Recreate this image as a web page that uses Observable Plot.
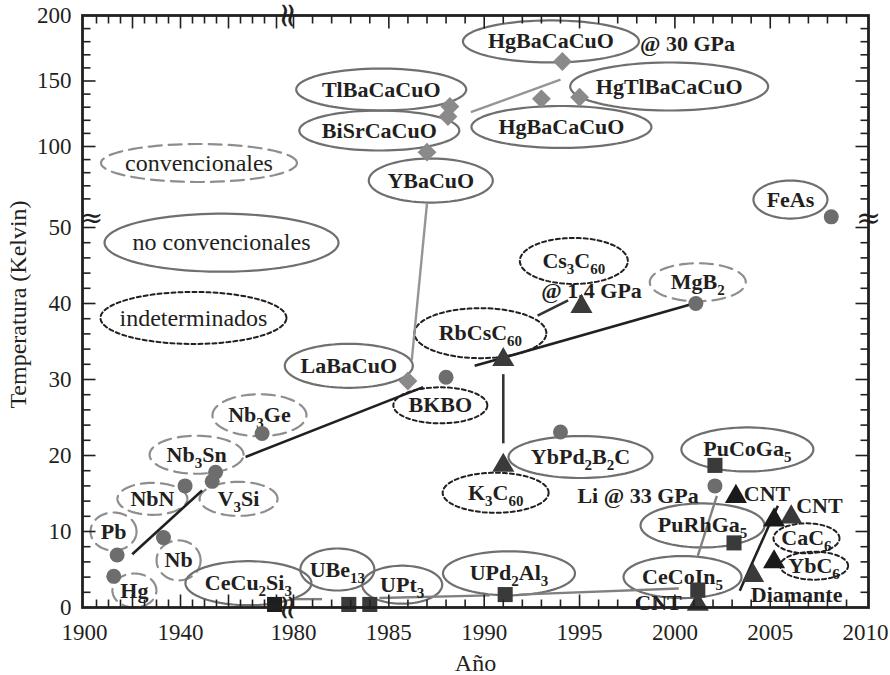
<!DOCTYPE html>
<html><head><meta charset="utf-8">
<script src="https://cdn.jsdelivr.net/npm/d3@7"></script>
<script src="https://cdn.jsdelivr.net/npm/@observablehq/plot@0.6"></script>
<style>body{margin:0;background:#fff}</style>
</head><body><div id="chart"></div>
<script>
// ---------------- DATA ----------------
// Conventional superconductors (grey circles)
const convName = ["Hg","Pb","Nb","NbN","V3Si","Nb3Sn","Nb3Ge","BKBO","YbPd2B2C","MgB2","Li @ 33 GPa","FeAs"];
const convYear = [1912.2, 1913.6, 1932.9, 1941.9, 1953.2, 1954.6, 1974.0, 1988.0, 1994.0, 2001.1, 2002.1, 2008.2];
const convTc   = [4.1, 6.9, 9.2, 16.0, 16.6, 17.8, 22.9, 30.3, 23.1, 40.0, 16.0, 51.4];

// Cuprates (grey diamonds)
const cupName = ["LaBaCuO","YBaCuO","BiSrCaCuO","TlBaCaCuO","HgBaCaCuO","HgTlBaCaCuO","HgBaCaCuO @ 30 GPa"];
const cupYear = [1986.0, 1987.0, 1988.1, 1988.2, 1993.0, 1995.0, 1994.1];
const cupTc   = [29.8, 95.7, 122.9, 130.5, 136.4, 137.6, 164.9];

// Heavy fermions (dark squares)
const hfName = ["CeCu2Si2","UBe13","UPt3","UPd2Al3","CeCoIn5","PuRhGa5","PuCoGa5"];
const hfYear = [1979.2, 1982.9, 1984.0, 1991.1, 2001.2, 2003.1, 2002.1];
const hfTc   = [0.4, 0.4, 0.4, 1.7, 2.3, 8.5, 18.7];

// Carbon-based (triangles): black ones and dark-grey ones
const triBlackName = ["CNT","CaC6","YbC6"];
const triBlackYear = [2003.2, 2005.2, 2005.2];
const triBlackTc   = [14.6, 11.5, 6.0];
const triGreyName = ["K3C60","RbCsC60","Cs3C60 @ 1,4 GPa","CNT","Diamante","CNT"];
const triGreyYear = [1991.0, 1991.0, 1995.1, 2006.1, 2004.1, 2001.2];
const triGreyTc   = [18.7, 32.6, 39.6, 11.9, 4.2, 0.4];

// Guide lines [[year,Tc],[year,Tc]]
const convTrend = [[[1919.9,7.0],[1949.0,15.4]], [[1967.1,19.8],[1986.8,29.0]], [[1989.5,31.8],[2001.0,40.0]], [[2003.4,2.2],[2005.4,13.4]]];
const fullTrend = [[[1991.0,30.7],[1991.0,21.6]], [[1992.8,38.4],[1994.4,40.4]]];
const cupTrend  = [[[1986.2,32.5],[1987.0,56.5]], [[1989.3,126.2],[1994.0,151.1]]];
const hfTrend   = [[[1980.0,1.1],[1981.5,1.1]], [[1984.5,1.25],[1990.3,1.6]], [[1991.8,1.7],[2000.2,2.5]], [[2001.2,6.8],[2002.2,14.7]]];

// Labels (text, year, Tc) by frame style
const lblConv = ["Hg","Pb","Nb","NbN","V_3Si","Nb_3Sn","Nb_3Ge","MgB_2"];
const lblConvYear = [1920.8, 1912.1, 1939.2, 1928.3, 1964.2, 1946.7, 1972.9, 2001.2];
const lblConvTc   = [2.24, 10.0, 6.2, 14.3, 14.3, 20.1, 25.3, 42.8];
const lblConvRx = [22, 23, 22, 35, 39, 47, 47, 48];
const lblConvRy = [17, 19, 20, 16, 17, 19, 21, 19];

const lblUnc = ["CeCu_2Si_3","UBe_{13}","UPt_3","UPd_2Al_3","CeCoIn_5","PuRhGa_5","PuCoGa_5","LaBaCuO","YBaCuO","BiSrCaCuO","TlBaCaCuO","HgBaCaCuO","HgTlBaCaCuO","HgBaCaCuO","YbPd_2B_2C","FeAs"];
const lblUncYear = [1968.3, 1982.3, 1985.7, 1991.3, 2000.4, 2001.45, 2003.8, 1982.9, 1987.2, 1984.5, 1984.6, 1993.5, 1999.7, 1994.05, 1995.05, 2006.06];
const lblUncTc   = [3.2, 5.0, 3.0, 4.5, 4.0, 10.8, 20.8, 31.8, 74, 112.2, 143.5, 180.2, 145.8, 114.9, 19.8, 59.5];
const lblUncRx = [63, 37, 40, 66, 59, 62, 66, 64, 62, 80, 85, 88, 99, 90, 72, 37];
const lblUncRy = [22, 21, 19, 22, 21, 22, 22, 22, 22, 20, 21, 21, 24, 21, 21, 19];

const lblUnd = ["RbCsC_{60}","BKBO","K_3C_{60}","Cs_3C_{60}","CaC_6","YbC_6"];
const lblUndYear = [1989.8, 1987.7, 1990.6, 1994.7, 2006.9, 2007.3];
const lblUndTc   = [36.1, 26.6, 15.1, 45.6, 9.1, 5.5];
const lblUndRx = [66, 47, 53, 54, 33, 34];
const lblUndRy = [25, 18, 20, 23, 15, 14];

const lblPlain = ["@ 30 GPa","Li @ 33 GPa","CNT","CNT","CNT","Diamante","@ 1,4 GPa"];
const lblPlainYear = [2000.66, 1998.07, 2004.83, 2007.58, 1999.14, 2006.38, 1995.63];
const lblPlainTc   = [178.6, 14.74, 15.0, 13.3, 0.66, 1.7, 41.7];

const legendText = ["convencionales","no convencionales","indeterminados"];
const legendYear = [1947.7, 1957.1, 1945.4];
const legendTc   = [87.4, 48.0, 38.1];
const legendRx = [98, 117, 93];
const legendRy = [19, 29, 26];

// Axis ticks
const xTicksOld = d3.range(1905, 1981, 5);
const xTicksNew = d3.range(1980, 2010, 1);
const xLabelsOld = [1900, 1940];
const xLabelsNew = [1980, 1985, 1990, 1995, 2000, 2005, 2010];
const yTicksLow = d3.range(2, 51, 2);
const yTicksHigh = d3.range(60, 200, 10);
const yLabelsLow = [0, 10, 20, 30, 40, 50];
const yLabelsHigh = [100, 150, 200];

// ---------------- LAYOUT / BROKEN SCALES ----------------
const W = 890, H = 675, mL = 82, mR = 22, mT = 15, mB = 68;
const INK = "#231f20";
const FONT = "'Liberation Serif','Times New Roman',serif";
const PX_OLD = 2.4, PX_NEW = 19.07, X1900 = 84, X1980 = 293;   // px per year / anchors
const PY_LOW = 7.6, PY_HIGH = 1.31, Y100 = 146, Y0 = H - mB;   // px per K / anchors
const uL = yr => 1980 - (X1980 - X1900) / PX_NEW + (yr - 1900) * PX_OLD / PX_NEW;
const u = yr => yr < 1980 ? uL(yr) : yr;
const vH = T => (Y0 - Y100 + (T - 100) * PY_HIGH) / PY_LOW;
const v = T => T <= 51.5 ? T : vH(T);
const u0 = 1980 - (X1980 - mL) / PX_NEW, u1 = 1980 + (W - mR - X1980) / PX_NEW;
const v1 = (Y0 - mT) / PY_LOW;
const kx = PX_NEW, ky = PY_LOW;

const pts = (names, yrs, tcs) => names.map((n, i) => ({name: n, x: u(yrs[i]), y: v(tcs[i])}));
const segs = list => list.map(([a, b]) => ({x1: u(a[0]), y1: v(a[1]), x2: u(b[0]), y2: v(b[1])}));
const labels = (names, yrs, tcs) => names.map((n, i) => ({t: n, x: u(yrs[i]), y: v(tcs[i])}));
function ellipses(names, yrs, tcs, rxs, rys) {
  const out = [];
  names.forEach((n, i) => {
    const cx = u(yrs[i]), cy = v(tcs[i]);
    for (let k = 0; k <= 90; k++) {
      const a = k / 90 * 2 * Math.PI;
      out.push({id: n + i, x: cx + rxs[i] * Math.cos(a) / kx, y: cy + rys[i] * Math.sin(a) / ky});
    }
  });
  return out;
}

// ticks
const MAJ = 13, MIN = 8;
const xt = [...xTicksOld.map(y => ({x: uL(y), L: y % 20 === 0 ? MAJ : MIN})),
            ...xTicksNew.map(y => ({x: y, L: y % 5 === 0 ? MAJ : MIN}))];
const yt = [...yTicksLow.map(t => ({y: t, L: t % 10 === 0 ? MAJ : MIN})),
            ...yTicksHigh.map(t => ({y: vH(t), L: t % 50 === 0 ? MAJ : MIN}))];
const tickSegs = [
  ...xt.map(d => ({x1: d.x, x2: d.x, y1: 0, y2: d.L / ky})),
  ...xt.map(d => ({x1: d.x, x2: d.x, y1: v1, y2: v1 - d.L / ky})),
  ...yt.map(d => ({x1: u0, x2: u0 + d.L / kx, y1: d.y, y2: d.y})),
  ...yt.map(d => ({x1: u1, x2: u1 - d.L / kx, y1: d.y, y2: d.y}))
];
const xLab = [...xLabelsOld.map(y => ({x: uL(y), t: String(y)})), ...xLabelsNew.map(y => ({x: y, t: String(y)}))];
const yLab = [...yLabelsLow.map(t => ({y: t, t: String(t)})), ...yLabelsHigh.map(t => ({y: vH(t), t: String(t)}))];
const breakU = u0 + ((0.35 * (X1900 + 80 * PX_OLD) + 0.65 * X1980) - mL) / kx;
const breakV = (50 + vH(50)) / 2 + 0.2;

const greyDash = "#8e8e8e", greySolid = "#6f6f6f";
const BREAK_FONT = "'DejaVu Serif', serif";

const fig = Plot.plot({
  width: W, height: H, marginLeft: mL, marginRight: mR, marginTop: mT, marginBottom: mB,
  x: {domain: [u0, u1], axis: null},
  y: {domain: [0, v1], axis: null},
  style: {fontFamily: FONT, fontSize: "22px", color: INK, background: "white", overflow: "visible"},
  marks: [
    // frames around labels
    Plot.line(ellipses(lblConv, lblConvYear, lblConvTc, lblConvRx, lblConvRy), {x: "x", y: "y", z: "id", stroke: greyDash, strokeWidth: 2.2, strokeDasharray: "13,7"}),
    Plot.line(ellipses(legendText.slice(0,1), legendYear.slice(0,1), legendTc.slice(0,1), legendRx.slice(0,1), legendRy.slice(0,1)), {x: "x", y: "y", z: "id", stroke: greyDash, strokeWidth: 2.2, strokeDasharray: "13,7"}),
    Plot.line(ellipses(lblUnc, lblUncYear, lblUncTc, lblUncRx, lblUncRy), {x: "x", y: "y", z: "id", stroke: greySolid, strokeWidth: 2.2}),
    Plot.line(ellipses(legendText.slice(1,2), legendYear.slice(1,2), legendTc.slice(1,2), legendRx.slice(1,2), legendRy.slice(1,2)), {x: "x", y: "y", z: "id", stroke: greySolid, strokeWidth: 2.2}),
    Plot.line(ellipses(lblUnd, lblUndYear, lblUndTc, lblUndRx, lblUndRy), {x: "x", y: "y", z: "id", stroke: INK, strokeWidth: 2, strokeDasharray: "4,3"}),
    Plot.line(ellipses(legendText.slice(2), legendYear.slice(2), legendTc.slice(2), legendRx.slice(2), legendRy.slice(2)), {x: "x", y: "y", z: "id", stroke: INK, strokeWidth: 2, strokeDasharray: "4,3"}),
    // guide lines
    Plot.link(segs(hfTrend), {x1: "x1", y1: "y1", x2: "x2", y2: "y2", stroke: "#808080", strokeWidth: 2.4}),
    Plot.link(segs(cupTrend), {x1: "x1", y1: "y1", x2: "x2", y2: "y2", stroke: "#959595", strokeWidth: 2.4}),
    Plot.link(segs(fullTrend), {x1: "x1", y1: "y1", x2: "x2", y2: "y2", stroke: "#333333", strokeWidth: 2.6}),
    Plot.link(segs(convTrend), {x1: "x1", y1: "y1", x2: "x2", y2: "y2", stroke: INK, strokeWidth: 2.6}),
    // labels
    Plot.text(labels(lblConv, lblConvYear, lblConvTc), {x: "x", y: "y", text: "t", fill: INK, fontWeight: "bold", fontSize: 22}),
    Plot.text(labels(lblUnc, lblUncYear, lblUncTc), {x: "x", y: "y", text: "t", fill: INK, fontWeight: "bold", fontSize: 22}),
    Plot.text(labels(lblUnd, lblUndYear, lblUndTc), {x: "x", y: "y", text: "t", fill: INK, fontWeight: "bold", fontSize: 22}),
    Plot.text(labels(lblPlain, lblPlainYear, lblPlainTc), {x: "x", y: "y", text: "t", fill: INK, fontWeight: "bold", fontSize: 22}),
    Plot.text(labels(legendText, legendYear, legendTc), {x: "x", y: "y", text: "t", fill: INK, fontSize: 24}),
    // points
    Plot.dot(pts(convName, convYear, convTc), {x: "x", y: "y", r: 7.5, fill: "#6d6d6d", symbol: "circle"}),
    Plot.dot(pts(cupName, cupYear, cupTc), {x: "x", y: "y", r: 8.5, fill: "#8a8a8a", symbol: "diamond2"}),
    Plot.dot(pts(hfName.slice(0,1), hfYear.slice(0,1), hfTc.slice(0,1)), {x: "x", y: "y", r: 8.5, fill: "#1e1e1e", symbol: "square"}),
    Plot.dot(pts(hfName.slice(1), hfYear.slice(1), hfTc.slice(1)), {x: "x", y: "y", r: 8.5, fill: "#3a3a3a", symbol: "square"}),
    Plot.dot(pts(triGreyName, triGreyYear, triGreyTc), {x: "x", y: "y", r: 8.2, fill: "#3a3a3a", symbol: "triangle"}),
    Plot.dot(pts(triBlackName, triBlackYear, triBlackTc), {x: "x", y: "y", r: 8.2, fill: "#1a1a1a", symbol: "triangle"}),
    // axes
    Plot.link(tickSegs, {x1: "x1", y1: "y1", x2: "x2", y2: "y2", stroke: INK, strokeWidth: 1.6}),
    Plot.frame({stroke: INK, strokeWidth: 2.8}),
    Plot.text(xLab, {x: "x", y: 0, text: "t", dy: 25, fill: INK, fontSize: 23}),
    Plot.text(yLab, {x: u0, y: "y", text: "t", dx: -11, textAnchor: "end", fill: INK, fontSize: 23}),
    Plot.text([{t: "≈"}], {x: breakU, y: 0, text: "t", rotate: 90, fontSize: 34, fontFamily: BREAK_FONT, fill: INK}),
    Plot.text([{t: "≈"}], {x: breakU, y: v1, text: "t", rotate: 90, fontSize: 34, fontFamily: BREAK_FONT, fill: INK}),
    Plot.text([{t: "≈"}], {x: u0, y: breakV, text: "t", dx: 9, fontSize: 28, fontFamily: BREAK_FONT, fill: INK}),
    Plot.text([{t: "≈"}], {x: u1, y: breakV, text: "t", fontSize: 30, fontFamily: BREAK_FONT, fill: INK}),
    Plot.text(["Año"], {frameAnchor: "bottom", text: d => d, dy: 56, textAnchor: "middle", lineAnchor: "middle", fill: INK, fontSize: 24}),
    Plot.text(["Temperatura (Kelvin)"], {frameAnchor: "left", text: d => d, dx: -64, dy: -7, rotate: -90, textAnchor: "middle", lineAnchor: "middle", fill: INK, fontSize: 24})
  ]
});

// subscripts: "_3" or "_{60}"
fig.querySelectorAll("text").forEach(t => {
  const s = t.textContent;
  if (!s.includes("_")) return;
  const re = /_\{(\d+)\}|_(\d)/g;
  const parts = []; let last = 0, m;
  while ((m = re.exec(s))) {
    if (m.index > last) parts.push([s.slice(last, m.index), false]);
    parts.push([m[1] || m[2], true]);
    last = re.lastIndex;
  }
  if (last < s.length) parts.push([s.slice(last), false]);
  while (t.firstChild) t.removeChild(t.firstChild);
  let down = false;
  for (const [txt, isSub] of parts) {
    const ts = document.createElementNS("http://www.w3.org/2000/svg", "tspan");
    ts.textContent = txt;
    if (isSub) {
      ts.setAttribute("font-size", "15");
      if (!down) { ts.setAttribute("dy", "6"); down = true; }
    } else if (down) { ts.setAttribute("dy", "-6"); down = false; }
    t.appendChild(ts);
  }
});
document.getElementById("chart").appendChild(fig);
</script>
</body></html>
